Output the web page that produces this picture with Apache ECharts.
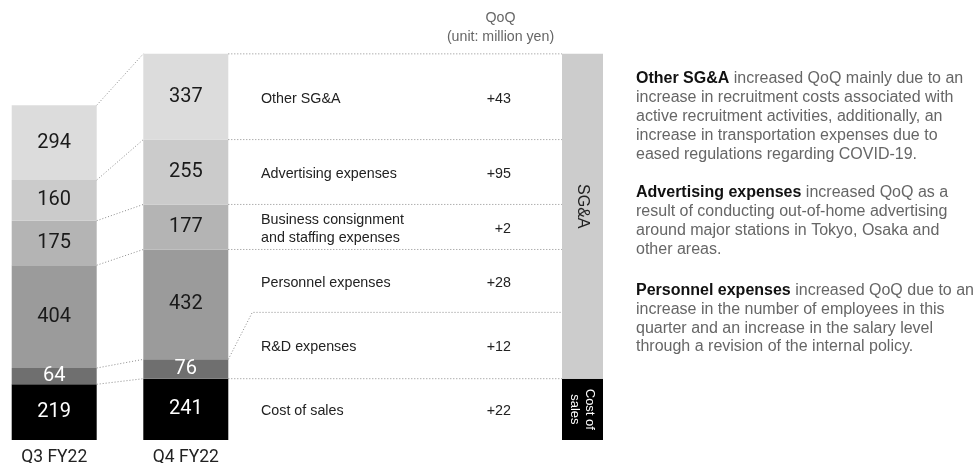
<!DOCTYPE html>
<html>
<head>
<meta charset="utf-8">
<script src="https://cdn.jsdelivr.net/npm/echarts@6/dist/echarts.min.js"></script>
<style>
  html, body { margin: 0; padding: 0; background: #ffffff; }
  #chart { width: 979px; height: 463px; }
</style>
</head>
<body>
<div id="chart"></div>
<script>
// Periods on the x axis
const periods = ['Q3 FY22', 'Q4 FY22'];
// Cost items, from the bottom of the stack to the top
const items = [
  'Cost of sales',
  'R&D expenses',
  'Personnel expenses',
  'Business consignment\nand staffing expenses',
  'Advertising expenses',
  'Other SG&A'
];
// Values in million yen
const q3Values = [219, 64, 404, 175, 160, 294];
const q4Values = [241, 76, 432, 177, 255, 337];
// Side column groups (bottom to top)
const sideGroups = ['Cost of\nsales', 'SG&A'];
// Commentary blocks: bold lead + body text lines
const noteLeads = ['Other SG&A', 'Advertising expenses', 'Personnel expenses'];
const noteBodies = [
  [' increased QoQ mainly due to an', 'increase in recruitment costs associated with', 'active recruitment activities, additionally, an', 'increase in transportation expenses due to', 'eased regulations regarding COVID-19.'],
  [' increased QoQ as a', 'result of conducting out-of-home advertising', 'around major stations in Tokyo, Osaka and', 'other areas.'],
  [' increased QoQ due to an', 'increase in the number of employees in this', 'quarter and an increase in the salary level', 'through a revision of the internal policy.']
];
const headerLines = ['QoQ', '(unit: million yen)'];

// ---- styling / layout ----
const segColors = ['#000000', '#6f6f6f', '#9b9b9b', '#b4b4b4', '#cbcbcb', '#dcdcdc'];
const segLabelColors = ['#ffffff', '#ffffff', '#1a1a1a', '#1a1a1a', '#1a1a1a', '#1a1a1a'];
const sideColors = ['#000000', '#cccccc'];
const BAR_W = 85;
const GRID_TOP = 33, GRID_BOTTOM = 23, Y_MAX = 1600;
const SIDE_LEFT = 562, SIDE_W = 41;
const TABLE_LABEL_X = 261, TABLE_VALUE_X = 511, TABLE_TEXT_SHIFT = 2;
const RD_LIFT = 47, RD_RUN = 24;
const NOTE_X = 636, NOTE_LINE_H = 18.8;
const noteTops = [69.6, 183.6, 281.2];
const SANS = '"Liberation Sans", Arial, sans-serif';
const DOT = { stroke: '#8c8c8c', lineWidth: 1, lineDash: [1, 2], fill: null };

// cumulative tops of each segment
function cumulative(arr) { let s = 0; return arr.map(v => (s += v)); }
const cum3 = cumulative(q3Values);
const cum4 = cumulative(q4Values);
const sgaTotal = q4Values.slice(1).reduce((a, b) => a + b, 0);
const sideValues = [q4Values[0], sgaTotal];

const chart = echarts.init(document.getElementById('chart'), null, { renderer: 'canvas' });

const barSeries = items.map((name, i) => ({
  name: name,
  type: 'bar',
  stack: 'total',
  xAxisIndex: 0, yAxisIndex: 0,
  barWidth: BAR_W,
  data: [q3Values[i], q4Values[i]],
  itemStyle: { color: segColors[i] },
  label: {
    show: true, position: 'inside',
    color: segLabelColors[i], fontFamily: 'Roboto', fontSize: 20
  },
  emphasis: { disabled: true },
  silent: true
}));

const sideSeries = sideGroups.map((name, i) => ({
  name: name,
  type: 'bar',
  stack: 'side',
  xAxisIndex: 1, yAxisIndex: 1,
  barWidth: '100%',
  data: [sideValues[i]],
  itemStyle: { color: sideColors[i] },
  label: i === 0 ? {
    show: true, position: 'inside', rotate: -90, formatter: name,
    color: '#ffffff', fontFamily: SANS, fontSize: 13, lineHeight: 15
  } : {
    show: true, position: 'inside', rotate: -90, formatter: name,
    color: '#222222', fontFamily: SANS, fontSize: 16, offset: [-10, 0]
  },
  emphasis: { disabled: true },
  silent: true
}));

// dotted connectors between the two bars plus the QoQ table rows
function renderTable(params, api) {
  const i = api.value(2);
  const p3 = api.coord([0, api.value(3)]);
  const p4 = api.coord([1, api.value(1)]);
  const half = BAR_W / 2;
  const x3r = p3[0] + half, x4l = p4[0] - half, x4r = p4[0] + half;

  const rowTop = k => {
    const y = api.coord([1, cum4[k]])[1];
    return k === 1 ? y - RD_LIFT : y;
  };
  const topY = rowTop(i);
  const botY = i === 0 ? api.coord([1, 0])[1] : rowTop(i - 1);
  const midY = (topY + botY) / 2 + TABLE_TEXT_SHIFT;

  const run = i === 1
    ? [[x4r, p4[1]], [x4r + RD_RUN, topY], [SIDE_LEFT, topY]]
    : [[x4r, p4[1]], [SIDE_LEFT, p4[1]]];

  return {
    type: 'group',
    children: [
      { type: 'polyline', shape: { points: [[x3r, p3[1]], [x4l, p4[1]]] }, style: DOT },
      { type: 'polyline', shape: { points: run }, style: DOT },
      { type: 'text', style: {
          text: items[i], x: TABLE_LABEL_X, y: midY,
          align: 'left', verticalAlign: 'middle',
          fill: '#222222', fontFamily: SANS, fontSize: 14.3, lineHeight: 18
      } },
      { type: 'text', style: {
          text: '+' + (q4Values[i] - q3Values[i]), x: TABLE_VALUE_X, y: midY,
          align: 'right', verticalAlign: 'middle',
          fill: '#222222', fontFamily: SANS, fontSize: 14.3
      } }
    ]
  };
}

const notesGraphic = noteLeads.map((lead, k) => ({
  type: 'text',
  left: NOTE_X,
  top: noteTops[k],
  silent: true,
  style: {
    text: '{b|' + lead + '}' + noteBodies[k].join('\n'),
    fill: '#666666',
    fontFamily: SANS,
    fontSize: 16,
    lineHeight: NOTE_LINE_H,
    rich: {
      b: { fontWeight: 'bold', fill: '#111111', fontFamily: SANS, fontSize: 16, lineHeight: NOTE_LINE_H }
    }
  }
}));

const option = {
  animation: false,
  backgroundColor: '#ffffff',
  grid: [
    { left: 54.2 - 65.8, width: 263.2, top: GRID_TOP, bottom: GRID_BOTTOM, outerBoundsMode: 'none', containLabel: false },
    { left: SIDE_LEFT, width: SIDE_W, top: GRID_TOP, bottom: GRID_BOTTOM, outerBoundsMode: 'none', containLabel: false }
  ],
  xAxis: [
    {
      type: 'category', gridIndex: 0, data: periods,
      axisLine: { show: false }, axisTick: { show: false },
      axisLabel: { color: '#222222', fontFamily: 'Roboto', fontSize: 17.5, margin: 9 }
    },
    { type: 'category', gridIndex: 1, data: ['side'], show: false }
  ],
  yAxis: [
    { type: 'value', gridIndex: 0, min: 0, max: Y_MAX, show: false, splitLine: { show: false } },
    { type: 'value', gridIndex: 1, min: 0, max: Y_MAX, show: false, splitLine: { show: false } }
  ],
  graphic: [
    {
      type: 'text', x: 500.5, y: 9, silent: true,
      style: {
        text: headerLines.join('\n'), x: 0, y: 0, align: 'center', verticalAlign: 'top',
        fill: '#666666', fontFamily: SANS, fontSize: 14.2, lineHeight: 19
      }
    }
  ].concat(notesGraphic),
  series: barSeries.concat(sideSeries, [{
    type: 'custom',
    xAxisIndex: 0, yAxisIndex: 0,
    clip: false,
    silent: true,
    z: 5,
    renderItem: renderTable,
    data: items.map((name, i) => [1, cum4[i], i, cum3[i]])
  }])
};

chart.setOption(option);
</script>
</body>
</html>
